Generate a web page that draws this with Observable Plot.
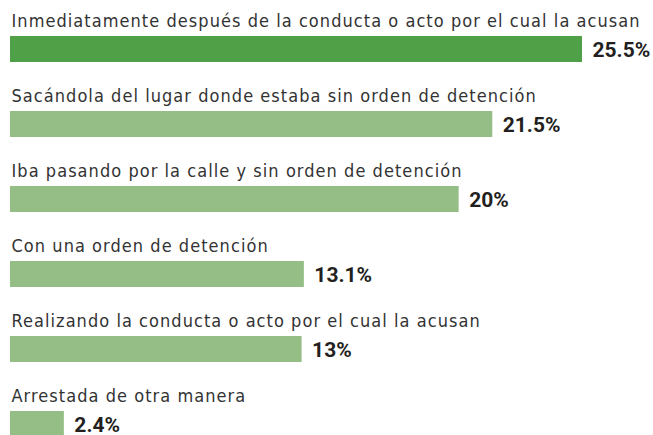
<!DOCTYPE html>
<html>
<head>
<meta charset="utf-8">
<script src="https://cdn.jsdelivr.net/npm/d3@7"></script>
<script src="https://cdn.jsdelivr.net/npm/@observablehq/plot@0.6"></script>
<style>
  html, body { margin: 0; padding: 0; background: #fff; }
  .catlab text { letter-spacing: 1.05px; }
</style>
</head>
<body>
<div id="chart"></div>
<script>
const categories = [
  "Inmediatamente después de la conducta o acto por el cual la acusan",
  "Sacándola del lugar donde estaba sin orden de detención",
  "Iba pasando por la calle y sin orden de detención",
  "Con una orden de detención",
  "Realizando la conducta o acto por el cual la acusan",
  "Arrestada de otra manera"
];
const values = [25.5, 21.5, 20, 13.1, 13, 2.4];
const valueLabels = ["25.5%", "21.5%", "20%", "13.1%", "13%", "2.4%"];
const highlighted = [true, false, false, false, false, false];

const data = categories.map((c, i) => ({
  category: c, value: values[i], label: valueLabels[i], hi: highlighted[i] ? "hi" : "lo"
}));

const chart = Plot.plot({
  width: 653,
  height: 435,
  margin: 0,
  style: { background: "#fff" },
  x: { domain: [0, 25.5], range: [10, 582], axis: null },
  y: { domain: categories, range: [36, 437.5], paddingInner: 0.6467, paddingOuter: 0, align: 0, axis: null },
  color: { domain: ["hi", "lo"], range: ["#4fa046", "#95be86"] },
  marks: [
    Plot.barX(data, { x: "value", y: "category", fill: "hi" }),
    Plot.text(data, {
      x: 0, y: "category", text: "category", textAnchor: "start", lineAnchor: "bottom", dx: 1, dy: -23,
      fontFamily: "DejaVu Sans Condensed", fontSize: 18, fill: "#333", className: "catlab"
    }),
    Plot.text(data, {
      x: "value", y: "category", text: "label", textAnchor: "start", dx: 10, dy: 1,
      fontFamily: "Roboto", fontWeight: "bold", fontSize: 21, fill: "#231f20", className: "vallab"
    })
  ]
});
document.getElementById("chart").appendChild(chart);
</script>
</body>
</html>
